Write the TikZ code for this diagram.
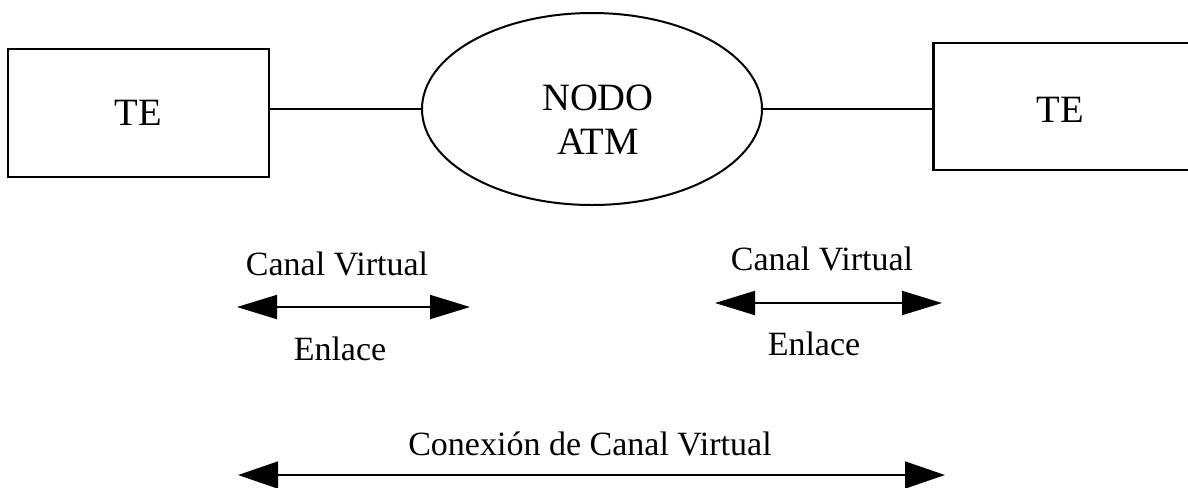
\documentclass[tikz,border=0pt]{standalone}
\usepackage{fontspec}
\setmainfont{Liberation Serif}
\usetikzlibrary{arrows.meta,shapes.geometric}
\begin{document}
\begin{tikzpicture}[x=0.75pt,y=-0.75pt,
  termbox/.style={draw,line width=1.7pt,rectangle,inner sep=0pt,
    minimum width=195.75pt,minimum height=96pt},
  bigtext/.style={font=\fontsize{29}{33}\selectfont},
  lbl/.style={font=\fontsize{25.5}{30}\selectfont,anchor=base,inner sep=0pt},
  link/.style={line width=1.5pt},
  dbl/.style={line width=1.5pt,{Triangle[length=30pt,width=18pt]}-{Triangle[length=30pt,width=18pt]}},
  dblbig/.style={line width=2pt,{Triangle[length=30pt,width=20pt]}-{Triangle[length=30pt,width=20pt]}}]
  \useasboundingbox (0,0) rectangle (1188,487);
  \clip (0,0) rectangle (1188,487);

  % terminal equipment, left and right
  \node[termbox,bigtext] (te1) at (138.5,113) {TE};
  \node[termbox,minimum height=95.25pt] (te2) at (1064,106.5) {};
  \node[bigtext,anchor=base,inner sep=0pt] (te2lbl) at (1060,122) {TE};

  % the switching node
  \node[draw,ellipse,line width=1.5pt,inner sep=0pt,
    minimum width=255pt,minimum height=144pt] (atm) at (592,109) {};
  \node[bigtext,align=center,inner sep=0pt] (atmlbl) at (598,120) {NODO\\ATM};

  % physical links
  \draw[link] (te1.east |- atm.west) -- (atm.west);
  \draw[link] (atm.east) -- (atm.east -| te2.west);

  % virtual channel on each link
  \node[lbl] (vc1) at (337,275) {Canal Virtual};
  \coordinate (a1) at (237,307);
  \coordinate (a2) at (470,307);
  \draw[dbl] (a1) -- (a2);
  \node[lbl] (en1) at (340,360) {Enlace};

  \node[lbl] (vc2) at (822,270) {Canal Virtual};
  \coordinate (b1) at (715,303);
  \coordinate (b2) at (942,303);
  \draw[dbl] (b1) -- (b2);
  \node[lbl] (en2) at (814,355) {Enlace};

  % end-to-end virtual channel connection
  \node[lbl] (vcc) at (590,455) {Conexión de Canal Virtual};
  \coordinate (c1) at (238,475);
  \coordinate (c2) at (945,475);
  \draw[dblbig] (c1) -- (c2);
\end{tikzpicture}
\end{document}
